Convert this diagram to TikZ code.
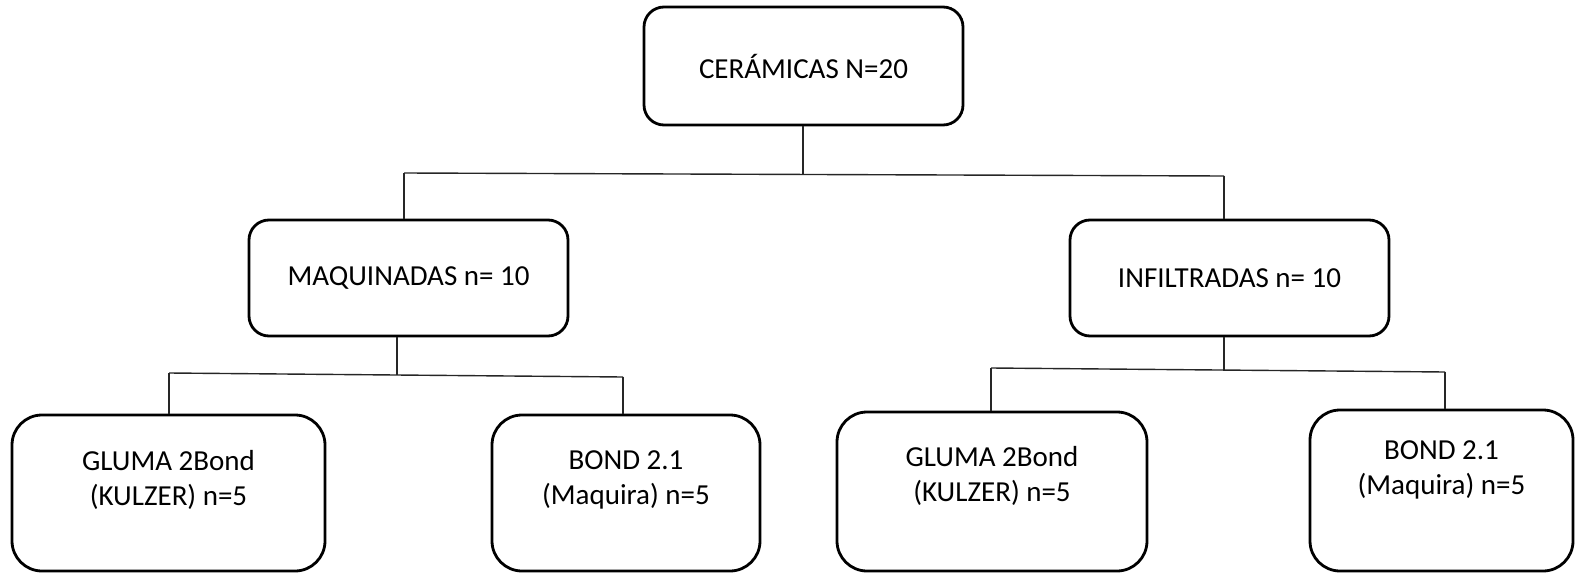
\documentclass[tikz,border=0pt]{standalone}
\usepackage{fontspec}
\setmainfont{Carlito}
\usetikzlibrary{calc}
\begin{document}
\begin{tikzpicture}[x=0.5pt,y=-0.5pt,
  every node/.style={font=\fontsize{14.5}{17.6}\selectfont},
  topbox/.style={draw=black, line width=1.4pt, rounded corners=10pt, inner sep=0pt, minimum width=159.5pt},
  leafbox/.style={draw=black, line width=1.4pt, rounded corners=15pt, inner sep=0pt},
  leaftext/.style={align=center, inner sep=0pt},
  conn/.style={draw=black!85, line width=0.7pt}]
\useasboundingbox (0,0) rectangle (1575,573);

\node[topbox, minimum height=59pt] (cer) at (803.5,66) {CERÁMICAS N=20};
\node[topbox, minimum height=58pt] (maq) at (408.5,278) {MAQUINADAS n= 10};
\node[topbox, minimum height=58pt] (inf) at (1229.5,278) {INFILTRADAS n= 10};

\node[leafbox, minimum width=156.5pt, minimum height=78pt] (b1) at (168.5,493) {};
\node[leafbox, minimum width=134pt, minimum height=78pt] (b2) at (626,493) {};
\node[leafbox, minimum width=155pt, minimum height=79.5pt] (b3) at (992,491.5) {};
\node[leafbox, minimum width=131.5pt, minimum height=80.5pt] (b4) at (1441.5,490.5) {};

\node[leaftext] (t1) at (168.5,480) {GLUMA 2Bond\\(KULZER) n=5};
\node[leaftext] (t2) at (626,480) {BOND 2.1\\(Maquira) n=5};
\node[leaftext] (t3) at (992,476) {GLUMA 2Bond\\(KULZER) n=5};
\node[leaftext] (t4) at (1441.5,470) {BOND 2.1\\(Maquira) n=5};

% level 1 connectors
\coordinate (j0) at (803,174.5);
\coordinate (hl) at (404,173);
\coordinate (hr) at (1224,176);
\draw[conn] (cer.south -| j0) -- (j0);
\draw[conn] (hl) -- (hr);
\draw[conn] (hl) -- (hl |- maq.north);
\draw[conn] (hr) -- (hr |- inf.north);

% level 2 left
\coordinate (j1) at (397,374.5);
\coordinate (l1) at (169,373);
\coordinate (r1) at (623,377);
\draw[conn] (maq.south -| j1) -- (j1);
\draw[conn] (l1) -- (r1);
\draw[conn] (l1) -- (l1 |- b1.north);
\draw[conn] (r1) -- (r1 |- b2.north);

% level 2 right
\coordinate (j2) at (1224,371);
\coordinate (l2) at (991,368);
\coordinate (r2) at (1445,372);
\draw[conn] (inf.south -| j2) -- (j2);
\draw[conn] (l2) -- (r2);
\draw[conn] (l2) -- (l2 |- b3.north);
\draw[conn] (r2) -- (r2 |- b4.north);
\end{tikzpicture}
\end{document}
